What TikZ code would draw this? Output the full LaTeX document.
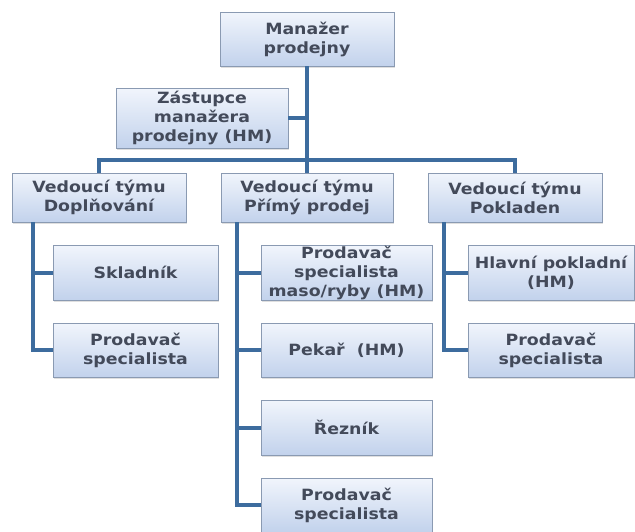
\documentclass[tikz,border=0pt]{standalone}
\usepackage{fontspec}
\newfontfamily\rolefont{DejaVu Sans Bold}[FakeStretch=1.12]
\usetikzlibrary{shadows}

\definecolor{linkblue}{HTML}{3D6C9E}
\definecolor{boxedge}{HTML}{8A9AB2}
\definecolor{boxtop}{HTML}{F1F5FC}
\definecolor{boxbottom}{HTML}{C2D2EC}
\definecolor{textgray}{HTML}{434A5A}

\tikzset{
  role/.style={draw=boxedge, line width=0.9pt, top color=boxtop, bottom color=boxbottom,
    drop shadow={opacity=0.25, shadow xshift=1pt, shadow yshift=-1.5pt},
    align=center, inner sep=0pt, text=textgray,
    font=\rolefont\fontsize{15.5}{19}\selectfont},
  link/.style={draw=linkblue, line width=4pt}
}

\begin{document}
\begin{tikzpicture}[x=1pt, y=-1pt]
        \useasboundingbox (0,0) rectangle (635,531);

        % Top of the shop
        \node[role, minimum width=174pt, minimum height=54pt] (mgr) at (307,39) {Manažer\\prodejny};
        \node[role, minimum width=172pt, minimum height=60pt] (zast) at (202,118) {Zástupce\\manažera\\prodejny (HM)};

        % Team leaders
        \node[role, minimum width=174pt, minimum height=49pt] (ved1) at (99,197.5) {Vedoucí týmu\\Doplňování};
        \node[role, minimum width=172pt, minimum height=49pt] (ved2) at (307,197.5) {Vedoucí týmu\\Přímý prodej};
        \node[role, minimum width=174pt, minimum height=49pt] (ved3) at (515,197.5) {Vedoucí týmu\\Pokladen};

        % Spines of the three columns
        \coordinate (bar) at (0,160);
        \coordinate (spineA) at (33,0);
        \coordinate (spineB) at (237,0);
        \coordinate (spineC) at (444,0);

        % Column Doplňování
        \node[role, minimum width=165pt, minimum height=55pt] (skl) at (135.5,272.5) {Skladník};
        \node[role, minimum width=165pt, minimum height=54pt] (specA) at (135.5,350) {Prodavač\\specialista};

        % Column Přímý prodej
        \node[role, minimum width=171pt, minimum height=55pt] (maso) at (346.5,272.5) {Prodavač\\specialista\\maso/ryby (HM)};
        \node[role, minimum width=171pt, minimum height=54pt] (pekar) at (346.5,350) {Pekař~ (HM)};
        \node[role, minimum width=171pt, minimum height=55pt] (reznik) at (346.5,427.5) {Řezník};
        \node[role, minimum width=171pt, minimum height=54pt] (specB) at (346.5,505) {Prodavač\\specialista};

        % Column Pokladen
        \node[role, minimum width=166pt, minimum height=55pt] (hlavni) at (551,272.5) {Hlavní pokladní\\(HM)};
        \node[role, minimum width=166pt, minimum height=54pt] (specC) at (551,350) {Prodavač\\specialista};

        % Main trunk and the bar
        \draw[link] (mgr.south) -- (ved2.north);
        \draw[link] (zast.east) -- (zast.east -| mgr.south);
        \draw[link] (ved1.north) |- (bar -| mgr.south) -| (ved3.north);

        % Branches
        \draw[link] (ved1.south -| spineA) |- (specA.west);
        \draw[link] (spineA |- skl.west) -- (skl.west);
        \draw[link] (ved2.south -| spineB) |- (specB.west);
        \draw[link] (spineB |- maso.west) -- (maso.west);
        \draw[link] (spineB |- pekar.west) -- (pekar.west);
        \draw[link] (spineB |- reznik.west) -- (reznik.west);
        \draw[link] (ved3.south -| spineC) |- (specC.west);
        \draw[link] (spineC |- hlavni.west) -- (hlavni.west);

    \end{tikzpicture}
\end{document}
